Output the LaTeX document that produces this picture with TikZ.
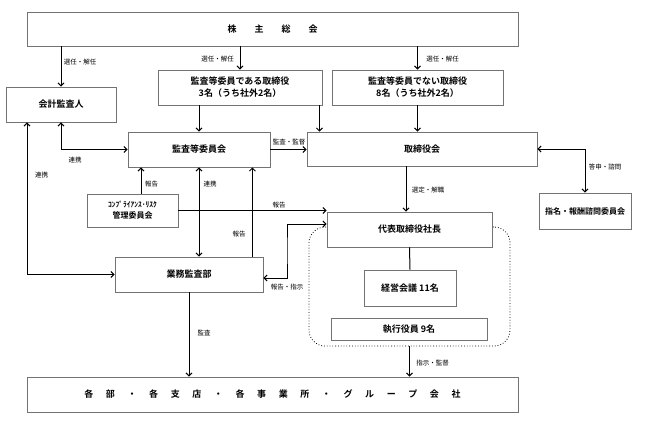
\documentclass[tikz,border=0pt]{standalone}
\usepackage{fontspec}
\setmainfont{Noto Sans CJK JP}[BoldFont={Noto Sans CJK JP Bold}]
\usetikzlibrary{arrows.meta,calc}
\newcommand{\kgap}{\hspace{1.4em}}
\newcommand{\wgap}{\hspace{2em}}

\begin{document}
\begin{tikzpicture}[x=1pt,y=-1pt,
  box/.style={draw=black!55, line width=0.8pt, fill=white, rectangle, inner sep=0pt, align=center, font=\fontsize{9}{12}\selectfont\bfseries},
  lbl/.style={inner sep=0pt, font=\fontsize{6.5}{7}\selectfont},
  group/.style={draw, dotted, line width=0.8pt, rounded corners=16pt, inner sep=0pt},
  arr/.style={line width=1pt, -{Straight Barb[length=3pt,width=6pt]}},
  darr/.style={line width=1pt, {Straight Barb[length=3pt,width=6pt]}-{Straight Barb[length=3pt,width=6pt]}}]
\useasboundingbox (0,0) rectangle (648,421);

% boxes
\node[box, minimum width=491, minimum height=34] (soukai) at (272.5,29) {株\wgap 主\wgap 総\wgap 会};
\node[box, minimum width=110, minimum height=35] (kaikei) at (61,104.5) {会計監査人};
\node[box, minimum width=164, minimum height=35] (kansayes) at (240,87.5) {監査等委員である取締役\\3名（うち社外2名）};
\node[box, minimum width=171, minimum height=35] (kansano) at (417.5,87.5) {監査等委員でない取締役\\8名（うち社外2名）};
\node[box, minimum width=142, minimum height=35] (iinkai) at (199,149.5) {監査等委員会};
\node[box, minimum width=230, minimum height=34] (torishimari) at (422,149) {取締役会};
\node[box, minimum width=92, minimum height=36, font=\fontsize{8}{10}\selectfont\bfseries] (shimei) at (585,211) {指名・報酬諮問委員会};
\node[box, minimum width=91, minimum height=33, font=\fontsize{8}{11}\selectfont\bfseries] (compliance) at (132.5,210.5) {{\fontsize{7.5}{11}\selectfont ｺﾝﾌﾟﾗｲｱﾝｽ･ﾘｽｸ}\\管理委員会};
\node[group, minimum width=201, minimum height=119] (exec) at (409.5,286.5) {};
\node[box, minimum width=165, minimum height=35] (shacho) at (409.5,229.5) {代表取締役社長};
\node[box, minimum width=148, minimum height=35] (gyomu) at (189,274.5) {業務監査部};
\node[box, minimum width=92, minimum height=36] (keiei) at (410,288) {経営会議\ 11名};
\node[box, minimum width=156, minimum height=22] (shikko) at (409,329) {執行役員\ 9名};
\node[box, minimum width=491, minimum height=35] (kakubu) at (272.5,394.5) {各\kgap 部\kgap ・\kgap 各\kgap 支\kgap 店\kgap ・\kgap 各\kgap 事\kgap 業\kgap 所\kgap ・\kgap グ\kgap ル\kgap ー\kgap プ\kgap 会\kgap 社};
\coordinate (bend) at (287,250);

% connectors
\draw[arr] (kaikei.north |- soukai.south) -- (kaikei.north);
\draw[arr] (kansayes.north |- soukai.south) -- (kansayes.north);
\draw[arr] (kansano.north |- soukai.south) -- (kansano.north);
\draw[arr] (iinkai.north |- kansayes.south) -- (iinkai.north);
\draw[arr] ([xshift=-3pt]kansayes.south east) -- ([xshift=-3pt]kansayes.south east |- torishimari.north);
\draw[arr] (kansano.south) -- (kansano.south |- torishimari.north);
\draw[arr] (iinkai.east) -- (iinkai.east -| torishimari.west);
\draw[darr] (kaikei.south) |- (iinkai.west);
\draw[darr] ([xshift=-34pt]kaikei.south) |- (gyomu.west);
\draw[arr] ([xshift=8.5pt]compliance.north) -- ([xshift=8.5pt]compliance.north |- iinkai.south);
\draw[darr] (iinkai.south) -- (iinkai.south |- gyomu.north);
\draw[arr] ([xshift=-11pt]gyomu.north east) -- ([xshift=-11pt]gyomu.north east |- iinkai.south);
\draw[arr] (compliance.east) -- (compliance.east -| shacho.west);
\draw[darr] ([yshift=5.5pt]shacho.west) -| (bend) |- ([yshift=-3.5pt]gyomu.east);
\draw[arr] ([xshift=-16pt]torishimari.south) -- ([xshift=-16pt]torishimari.south |- shacho.north);
\draw[darr] (torishimari.east) -| (shimei.north);
\draw[line width=1pt] (shacho.south) -- (keiei.north);
\draw[arr] (exec.south) -- (exec.south |- kakubu.north);
\draw[arr] (gyomu.south) -- (gyomu.south |- kakubu.north);

% labels
\node[lbl] (l1) at (80,62) {選任・解任};
\node[lbl] (l2) at (217.5,59) {選任・解任};
\node[lbl] (l3) at (442.5,59) {選任・解任};
\node[lbl] (l4) at (289,142) {監査・監督};
\node[lbl] (l5) at (75,160) {連携};
\node[lbl] (l6) at (41.5,175) {連携};
\node[lbl] (l7) at (151.5,184) {報告};
\node[lbl] (l8) at (210,184) {連携};
\node[lbl] (l9) at (239,234) {報告};
\node[lbl] (l10) at (279,205) {報告};
\node[lbl] (l11) at (287,287) {報告・指示};
\node[lbl] (l12) at (428,190) {選定・解職};
\node[lbl] (l13) at (605,167) {答申・諮問};
\node[lbl] (l14) at (432.5,363) {指示・監督};
\node[lbl] (l15) at (204,333) {監査};
\end{tikzpicture}
\end{document}
